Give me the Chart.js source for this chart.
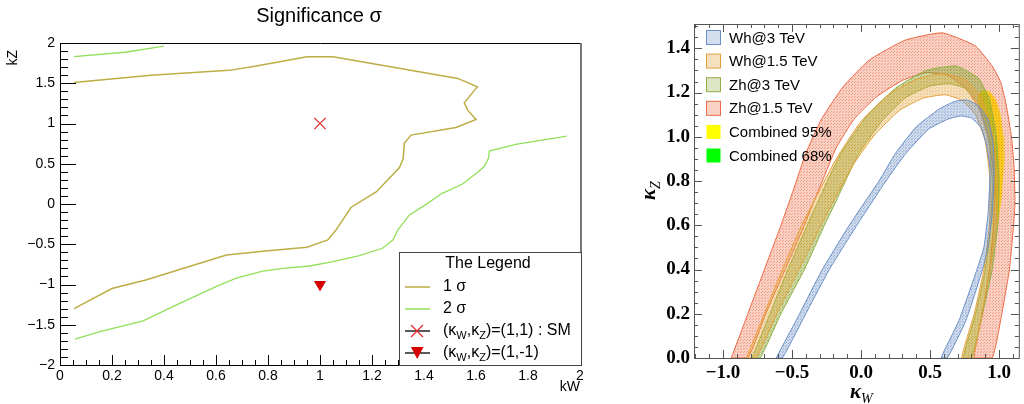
<!DOCTYPE html>
<html>
<head>
<meta charset="utf-8">
<script src="https://cdn.jsdelivr.net/npm/chart.js@4.4.1/dist/chart.umd.min.js"></script>
<style>
  html, body { margin: 0; padding: 0; background: #fff; }
  body { width: 1024px; height: 404px; position: relative; overflow: hidden; }
  .panel { position: absolute; top: 0; height: 404px; }
</style>
</head>
<body>
<div class="panel" style="left:0;width:600px"><canvas id="sigChart"></canvas></div>
<div class="panel" style="left:600px;width:424px"><canvas id="bandChart"></canvas></div>
<script>
// ---- left panel: significance contours (kW, kZ) ----
const sigma1Line = [[0.054,1.51],[0.35,1.6],[0.65,1.66],[0.75,1.71],[0.95,1.83],[1.05,1.83],[1.53,1.56],[1.605,1.455],
  [1.555,1.257],[1.568,1.166],[1.60,1.05],[1.523,0.95],[1.35,0.856],[1.324,0.753],[1.32,0.56],[1.305,0.45],
  [1.216,0.15],[1.12,-0.04],[1.06,-0.33],[1.03,-0.447],[0.95,-0.537],[0.79,-0.583],[0.64,-0.633],[0.33,-0.943],
  [0.2,-1.05],[0.054,-1.30]];
const sigma2Upper = [[0.054,1.83],[0.25,1.885],[0.40,1.96]];
const sigma2Lower = [[0.058,-1.68],[0.154,-1.585],[0.32,-1.452],[0.448,-1.253],[0.60,-1.026],[0.678,-0.92],
  [0.78,-0.835],[0.857,-0.80],[0.96,-0.77],[1.05,-0.715],[1.152,-0.64],[1.24,-0.55],[1.28,-0.447],[1.30,-0.32],
  [1.344,-0.136],[1.395,-0.033],[1.47,0.133],[1.548,0.248],[1.60,0.38],[1.631,0.463],[1.648,0.567],[1.651,0.657],
  [1.753,0.74],[1.949,0.844]];
const smPoint = [[1, 1]];
const flipPoint = [[1, -1]];

const sigXTicks = [0, 0.2, 0.4, 0.6, 0.8, 1, 1.2, 1.4, 1.6, 1.8, 2];
const sigXLabels = ['0', '0.2', '0.4', '0.6', '0.8', '1', '1.2', '1.4', '1.6', '1.8', '2'];
const sigYTicks = [-2, -1.5, -1, -0.5, 0, 0.5, 1, 1.5, 2];
const sigYLabels = ['\u22122', '\u22121.5', '\u22121', '\u22120.5', '0', '0.5', '1', '1.5', '2'];

// ---- right panel: coupling bands (kappa_W, kappa_Z) ----
const whAt3Outer = [[-0.615,0],[-0.445,0.2],[-0.28,0.4],[-0.085,0.6],[0.13,0.8],[0.25,0.925],[0.40,1.045],[0.565,1.125],
  [0.68,1.16],[0.77,1.166],[0.85,1.14],[0.92,1.08],[0.955,0.98],[0.965,0.85],[0.95,0.65],[0.92,0.5],[0.88,0.4],[0.76,0.17],[0.625,0]];
const whAt3Inner = [[-0.57,0],[-0.40,0.2],[-0.23,0.4],[-0.03,0.6],[0.18,0.8],[0.325,0.925],[0.49,1.035],[0.63,1.08],
  [0.72,1.094],[0.80,1.085],[0.87,1.04],[0.91,0.96],[0.935,0.85],[0.92,0.65],[0.89,0.5],[0.84,0.4],[0.71,0.17],[0.58,0]];
const whAt15Outer = [[-0.83,0],[-0.70,0.2],[-0.57,0.4],[-0.43,0.6],[-0.34,0.71],[-0.18,0.9],[0.0,1.07],[0.2,1.19],
  [0.4,1.26],[0.58,1.285],[0.75,1.26],[0.87,1.18],[0.95,1.02],[0.985,0.82],[0.98,0.6],[0.935,0.4],[0.875,0.2],[0.81,0]];
const whAt15Inner = [[-0.76,0],[-0.61,0.2],[-0.45,0.4],[-0.29,0.6],[-0.2,0.71],[-0.05,0.88],[0.1,1.01],[0.28,1.12],
  [0.45,1.175],[0.61,1.19],[0.73,1.165],[0.83,1.1],[0.9,0.98],[0.935,0.8],[0.93,0.6],[0.89,0.4],[0.82,0.2],[0.73,0]];
const zhAt3Outer = [[-0.79,0],[-0.66,0.2],[-0.53,0.4],[-0.39,0.6],[-0.31,0.71],[-0.15,0.92],[0.05,1.1],[0.25,1.22],
  [0.47,1.3],[0.69,1.32],[0.85,1.265],[0.93,1.17],[0.98,1.0],[1.0,0.8],[0.99,0.6],[0.95,0.4],[0.88,0.2],[0.80,0]];
const zhAt3Inner = [[-0.73,0],[-0.58,0.2],[-0.41,0.4],[-0.265,0.6],[-0.18,0.71],[-0.02,0.92],[0.15,1.07],[0.33,1.18],
  [0.5,1.23],[0.64,1.24],[0.75,1.22],[0.85,1.15],[0.92,1.0],[0.95,0.8],[0.94,0.6],[0.9,0.4],[0.83,0.2],[0.74,0]];
const zhAt15Outer = [[-0.94,0],[-0.82,0.2],[-0.70,0.4],[-0.58,0.6],[-0.49,0.76],[-0.40,0.925],[-0.29,1.076],[-0.13,1.226],
  [0.06,1.347],[0.32,1.437],[0.59,1.47],[0.83,1.41],[0.95,1.32],[1.01,1.25],[1.05,1.15],[1.09,1.0],[1.11,0.85],
  [1.115,0.7],[1.105,0.6],[1.075,0.4],[1.02,0.2],[0.95,0]];
const zhAt15Inner = [[-0.82,0],[-0.69,0.2],[-0.55,0.4],[-0.41,0.6],[-0.34,0.71],[-0.28,0.8],[-0.18,0.95],[-0.05,1.08],
  [0.11,1.18],[0.30,1.255],[0.47,1.29],[0.62,1.28],[0.76,1.22],[0.86,1.12],[0.93,0.97],[0.965,0.8],[0.96,0.6],
  [0.93,0.4],[0.88,0.2],[0.82,0]];
const combined95 = [[0.85,1.19],[0.88,1.21],[0.93,1.205],[0.975,1.17],[1.01,1.1],[1.03,1.0],[1.035,0.88],[1.02,0.74],
  [0.99,0.6],[0.975,0.7],[0.96,0.85],[0.93,1.0],[0.89,1.09],[0.855,1.15],[0.85,1.19]];
const combined68 = [[0.925,1.15],[0.95,1.16],[0.985,1.12],[1.01,1.06],[1.02,0.98],[1.02,0.86],[1.005,0.76],[0.995,0.74],
  [0.98,0.82],[0.96,0.95],[0.94,1.05],[0.925,1.11],[0.925,1.15]];
const bestFit = [[1.0, 1.0]];

const bandNames = ['Wh@3 TeV', 'Wh@1.5 TeV', 'Zh@3 TeV', 'Zh@1.5 TeV', 'Combined 95%', 'Combined 68%'];
const bandXTicks = [-1, -0.5, 0, 0.5, 1];
const bandXLabels = ['\u22121.0', '\u22120.5', '0.0', '0.5', '1.0'];
const bandYTicks = [0, 0.2, 0.4, 0.6, 0.8, 1.0, 1.2, 1.4];
const bandYLabels = ['0.0', '0.2', '0.4', '0.6', '0.8', '1.0', '1.2', '1.4'];

Chart.defaults.font.family = '"Liberation Sans", Arial, sans-serif';
Chart.defaults.color = '#000';

const pts = a => a.map(([x, y]) => ({x, y}));
const ring = (outer, inner) => pts(outer.concat(inner.slice().reverse(), [outer[0]]));

// light stipple like the reference fills
function stipple(r, g, b, a) {
    const c = document.createElement('canvas');
    c.width = 3; c.height = 3;
    const p = c.getContext('2d');
    p.fillStyle = `rgba(${r},${g},${b},${a})`;
    p.fillRect(0, 0, 3, 3);
    p.fillStyle = `rgba(${r},${g},${b},${Math.min(1, a + 0.18)})`;
    p.fillRect(0, 0, 1, 1);
    p.fillRect(2, 1, 1, 1);
    return p.createPattern(c, 'repeat');
}

const sigColors = { one: '#bcae45', two: '#92e05a', marker: '#e02828', tri: '#d60000' };

function drawSubText(ctx, parts, x, y, size) {
    let cx = x;
    parts.forEach(([txt, sub]) => {
        ctx.font = `${sub ? Math.round(size * 0.7) : size}px "Liberation Sans", Arial, sans-serif`;
        ctx.fillText(txt, cx, sub ? y + size * 0.3 : y);
        cx += ctx.measureText(txt).width;
    });
}

const sigDecor = {
    id: 'sigDecor',
    afterDraw(chart) {
        const {ctx, chartArea: a, scales: {x, y}} = chart;
        ctx.save();
        // frame
        ctx.strokeStyle = '#000';
        ctx.lineWidth = 1;
        ctx.beginPath();
        ctx.moveTo(a.left + 0.5, a.top + 0.5); ctx.lineTo(a.right, a.top + 0.5);
        ctx.moveTo(a.left + 0.5, a.top); ctx.lineTo(a.left + 0.5, a.bottom + 0.5);
        ctx.lineTo(a.right, a.bottom + 0.5);
        ctx.stroke();
        ctx.strokeStyle = '#777';
        ctx.lineWidth = 2;
        ctx.beginPath();
        ctx.moveTo(a.right + 1, a.top); ctx.lineTo(a.right + 1, a.bottom + 1);
        ctx.stroke();
        // y ticks: major 0.5, minor 0.1
        ctx.strokeStyle = '#000';
        ctx.lineWidth = 1;
        ctx.beginPath();
        for (let i = -20; i <= 20; i++) {
            const py = Math.round(y.getPixelForValue(i / 10)) + 0.5;
            ctx.moveTo(a.left, py);
            ctx.lineTo(a.left + (i % 5 === 0 ? 16 : 8), py);
        }
        // x ticks: major 0.2, minor 0.05
        for (let i = 0; i <= 40; i++) {
            const px = Math.round(x.getPixelForValue(i / 20)) + 0.5;
            ctx.moveTo(px, a.bottom);
            ctx.lineTo(px, a.bottom - (i % 4 === 0 ? 10 : 5));
        }
        ctx.stroke();

        // titles
        ctx.fillStyle = '#000';
        ctx.textBaseline = 'middle';
        ctx.textAlign = 'center';
        ctx.font = '20px "Liberation Sans", Arial, sans-serif';
        ctx.fillText('Significance \u03C3', 319, 16);
        ctx.font = '14px "Liberation Sans", Arial, sans-serif';
        ctx.textAlign = 'right';
        ctx.fillText('kW', a.right, 387);
        ctx.save();
        ctx.translate(13, 50);
        ctx.rotate(-Math.PI / 2);
        ctx.fillText('kZ', 0, 0);
        ctx.restore();

        // legend box
        const lx = 399, ly = 252, lw = a.right + 1 - lx, lh = a.bottom - ly;
        ctx.fillStyle = '#fff';
        ctx.fillRect(lx, ly, lw, lh);
        ctx.strokeStyle = '#444';
        ctx.lineWidth = 1;
        ctx.strokeRect(lx + 0.5, ly + 0.5, lw, lh);
        ctx.fillStyle = '#000';
        ctx.textAlign = 'center';
        ctx.font = '16px "Liberation Sans", Arial, sans-serif';
        ctx.fillText('The Legend', 488, 264);
        ctx.textAlign = 'left';
        const rows = [287, 309, 331, 353];
        const ds = chart.data.datasets;
        ctx.lineWidth = 1.5;
        [ds[0].borderColor, ds[1].borderColor, '#222', '#222'].forEach((c, i) => {
            ctx.strokeStyle = c;
            ctx.beginPath();
            ctx.moveTo(405, rows[i]); ctx.lineTo(430, rows[i]);
            ctx.stroke();
        });
        // marker samples
        ctx.strokeStyle = sigColors.marker;
        ctx.lineWidth = 1.2;
        ctx.beginPath();
        ctx.moveTo(411, rows[2] - 6); ctx.lineTo(423, rows[2] + 6);
        ctx.moveTo(423, rows[2] - 6); ctx.lineTo(411, rows[2] + 6);
        ctx.stroke();
        ctx.fillStyle = sigColors.tri;
        ctx.beginPath();
        ctx.moveTo(411, rows[3] - 6); ctx.lineTo(423.5, rows[3] - 6); ctx.lineTo(417.2, rows[3] + 6);
        ctx.closePath();
        ctx.fill();
        ctx.fillStyle = '#000';
        drawSubText(ctx, [['1 \u03C3', false]], 443, rows[0], 16);
        drawSubText(ctx, [['2 \u03C3', false]], 443, rows[1], 16);
        drawSubText(ctx, [['(\u03BA', false], ['W', true], [',\u03BA', false], ['Z', true], [')=(1,1) : SM', false]], 443, rows[2], 16);
        drawSubText(ctx, [['(\u03BA', false], ['W', true], [',\u03BA', false], ['Z', true], [')=(1,-1)', false]], 443, rows[3], 16);
        ctx.restore();
    }
};

new Chart(document.getElementById('sigChart'), {
    type: 'line',
    data: {
        datasets: [
            { data: pts(sigma1Line), borderColor: sigColors.one, borderWidth: 1.5, pointRadius: 0, fill: false, tension: 0 },
            { data: pts(sigma2Lower), borderColor: sigColors.two, borderWidth: 1.3, pointRadius: 0, fill: false },
            { data: pts(sigma2Upper), borderColor: sigColors.two, borderWidth: 1.3, pointRadius: 0, fill: false },
            { data: pts(smPoint), showLine: false, pointStyle: 'crossRot', pointRadius: 8, borderColor: sigColors.marker, borderWidth: 1.2 },
            { data: pts(flipPoint), showLine: false, pointStyle: 'triangle', rotation: 180, pointRadius: 7,
              backgroundColor: sigColors.tri, borderColor: sigColors.tri, borderWidth: 0 }
        ]
    },
    options: {
        responsive: true,
        maintainAspectRatio: false,
        animation: false,
        layout: { padding: { top: 43, right: 20, left: 0, bottom: 0 } },
        plugins: { legend: { display: false }, tooltip: { enabled: false } },
        scales: {
            x: {
                type: 'linear', min: 0, max: 2,
                afterFit: s => { s.height = 39; },
                afterBuildTicks: s => { s.ticks = sigXTicks.map(v => ({value: v})); },
                ticks: { autoSkip: false, maxRotation: 0, padding: 3, font: { size: 14 },
                         callback: v => sigXLabels[sigXTicks.indexOf(v)] },
                grid: { display: false, drawTicks: false },
                border: { display: false }
            },
            y: {
                type: 'linear', min: -2, max: 2,
                afterFit: s => { s.width = 60; },
                afterBuildTicks: s => { s.ticks = sigYTicks.map(v => ({value: v})); },
                ticks: { autoSkip: false, padding: 5, font: { size: 14 },
                         callback: v => sigYLabels[sigYTicks.indexOf(v)] },
                grid: { display: false, drawTicks: false },
                border: { display: false }
            }
        }
    },
    plugins: [sigDecor]
});

// ---- right panel ----
const bandStyles = [
    { edge: '#6a8ec6', fill: stipple(107, 143, 198, 0.33), swatch: '#d3deee' },
    { edge: '#e3a03a', fill: stipple(229, 163, 58, 0.33), swatch: '#f6e0bd' },
    { edge: '#93b043', fill: stipple(128, 160, 40, 0.40), swatch: '#dfe6c6' },
    { edge: '#ec6a45', fill: stipple(236, 108, 71, 0.32), swatch: '#f9d2c6' },
    { edge: '#ffff00', fill: '#ffff00', swatch: '#ffff00' },
    { edge: '#00ee00', fill: '#00ff00', swatch: '#00ff00' }
];
const bandShapes = [
    ring(whAt3Outer, whAt3Inner),
    ring(whAt15Outer, whAt15Inner),
    ring(zhAt3Outer, zhAt3Inner),
    ring(zhAt15Outer, zhAt15Inner),
    pts(combined95),
    pts(combined68)
];

const bandDecor = {
    id: 'bandDecor',
    afterDatasetsDraw(chart) {
        const {ctx, chartArea: a, scales: {x, y}} = chart;
        ctx.save();
        ctx.strokeStyle = '#555';
        ctx.lineWidth = 1;
        ctx.strokeRect(a.left + 0.5, a.top + 0.5, a.right - a.left, a.bottom - a.top);
        ctx.beginPath();
        for (let i = -12; i <= 11; i++) {
            const px = Math.round(x.getPixelForValue(i / 10)) + 0.5;
            const len = i % 5 === 0 ? 8 : 4;
            ctx.moveTo(px, a.bottom); ctx.lineTo(px, a.bottom - len);
            ctx.moveTo(px, a.top); ctx.lineTo(px, a.top + len);
        }
        for (let i = 0; i <= 30; i++) {
            const py = Math.round(y.getPixelForValue(i / 20)) + 0.5;
            const len = i % 4 === 0 ? 8 : 4;
            ctx.moveTo(a.left, py); ctx.lineTo(a.left + len, py);
            ctx.moveTo(a.right, py); ctx.lineTo(a.right - len, py);
        }
        ctx.stroke();
        ctx.restore();
    },
    afterDraw(chart) {
        const {ctx} = chart;
        ctx.save();
        // legend inside the frame
        ctx.textBaseline = 'middle';
        ctx.textAlign = 'left';
        ctx.font = '15px "Liberation Sans", Arial, sans-serif';
        bandNames.forEach((name, i) => {
            const cy = 37.5 + i * 23.6;
            const st = bandStyles[i];
            ctx.fillStyle = st.swatch;
            ctx.fillRect(106.5, cy - 7, 14, 14);
            if (i < 4) {
                ctx.strokeStyle = st.edge;
                ctx.lineWidth = 1;
                ctx.strokeRect(106.5, cy - 7, 14, 14);
            }
            ctx.fillStyle = '#000';
            ctx.fillText(name, 129, cy + 1);
        });
        // axis titles: kappa_W and kappa_Z
        ctx.fillStyle = '#000';
        ctx.font = 'bold italic 21px "Liberation Serif", serif';
        ctx.textAlign = 'left';
        ctx.fillText('\u03BA', 250, 393);
        ctx.font = 'italic 14px "Liberation Serif", serif';
        ctx.fillText('W', 261, 399);
        ctx.translate(50, 192);
        ctx.rotate(-Math.PI / 2);
        ctx.font = 'bold italic 21px "Liberation Serif", serif';
        ctx.fillText('\u03BA', -8, 0);
        ctx.font = 'italic 14px "Liberation Serif", serif';
        ctx.fillText('Z', 3, 6);
        ctx.restore();
    }
};

new Chart(document.getElementById('bandChart'), {
    type: 'line',
    data: {
        datasets: bandShapes.map((shape, i) => ({
            data: shape,
            borderColor: bandStyles[i].edge,
            backgroundColor: bandStyles[i].fill,
            borderWidth: i < 4 ? 1 : 0.5,
            pointRadius: 0,
            fill: 'shape',
            tension: i < 4 ? 0.15 : 0
        })).concat([{
            data: pts(bestFit), showLine: false, pointStyle: 'star', pointRadius: 3,
            borderColor: '#d00000', borderWidth: 1.2
        }])
    },
    options: {
        responsive: true,
        maintainAspectRatio: false,
        animation: false,
        layout: { padding: { top: 24, right: 4, left: 0, bottom: 0 } },
        plugins: { legend: { display: false }, tooltip: { enabled: false } },
        scales: {
            x: {
                type: 'linear', min: -1.21, max: 1.143,
                afterFit: s => { s.height = 46; },
                afterBuildTicks: s => { s.ticks = bandXTicks.map(v => ({value: v})); },
                ticks: { autoSkip: false, maxRotation: 0, padding: 4, font: { family: '"Liberation Serif", serif', size: 19, weight: 'bold' },
                         callback: v => bandXLabels[bandXTicks.indexOf(v)] },
                grid: { display: false, drawTicks: false },
                border: { display: false }
            },
            y: {
                type: 'linear', min: 0, max: 1.51,
                afterFit: s => { s.width = 94; },
                afterBuildTicks: s => { s.ticks = bandYTicks.map(v => ({value: v})); },
                ticks: { autoSkip: false, padding: 4, font: { family: '"Liberation Serif", serif', size: 19, weight: 'bold' },
                         callback: v => bandYLabels[bandYTicks.indexOf(v)] },
                grid: { display: false, drawTicks: false },
                border: { display: false }
            }
        }
    },
    plugins: [bandDecor]
});
</script>
</body>
</html>
